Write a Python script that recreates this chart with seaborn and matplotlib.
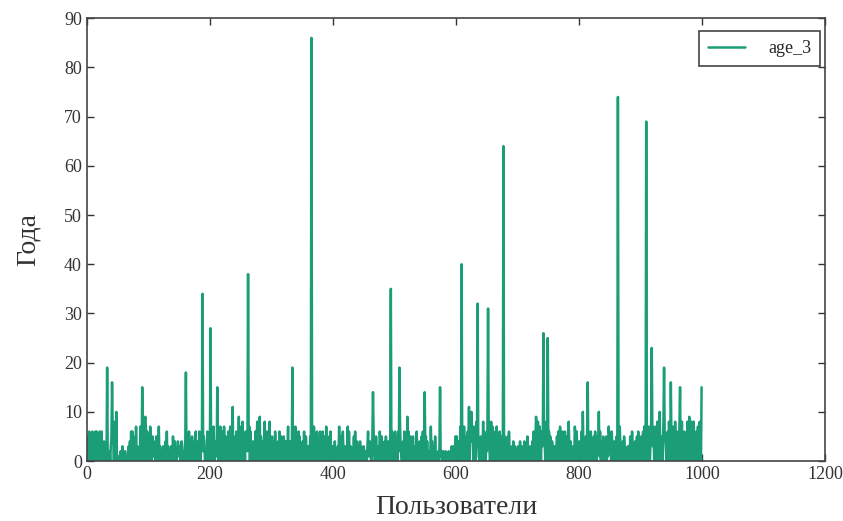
import matplotlib
matplotlib.use('Agg')
import matplotlib.pyplot as plt
import seaborn as sns
import pandas as pd

# baseline ages per user, read by eye (one digit per user, groups of 10)
base_rows = [
    "5031604206 3051606030 1602603040 1306010203 5076085030 1001020130 1020010230 4060605010 7031020710 2605807060",
    "3507203514 2015002703 0201302041 6031020301 5204100243 1300402103 4203006201 1500403604 3206005302 5401206403",
    "4501607204 3105020701 4607305042 6107304203 2506401806 3708204063 5204706102 4102605804 3605204108 2506301803",
    "3500406203 1406305102 5304102701 4200306207 0304605001 2406105200 3105006207 4200605106 2306405107 0304506003",
    "2304102031 4005106201 3100406103 2001506004 1302403100 3102003612 4100506201 5203106405 3102405102 4205306203",
    "4605306207 3102406105 2406305201 5203106203 1400506102 3504100203 2403005100 1203012002 0102001020 1003013005",
    "3504103705 4607201506 3708406507 2608305104 5302806403 2706301807 4501607304 2605302605 3102506201 2304203102",
    "1302410320 2403025102 3201406205 4608207406 3507401805 2605304201 3102506107 2506102605 1405304102 3102506203",
    "4201607204 2506102506 3102506305 4201600405 3102504105 2406302403 3506407301 2405302103 1305406202 2403506102",
    "3504607201 4607204806 3507401805 4605201806 5302608401 4607208106 3507401805 4605308106 5203608502 4607108207",
]

# the tall spikes
spike_users = [33, 41, 48, 90, 95, 161, 188, 201, 212, 237, 247, 262, 281, 334, 365,
               389, 410, 424, 465, 494, 508, 521, 549, 559, 574, 609, 621, 625, 635, 652,
               677, 730, 742, 749, 783, 793, 806, 814, 832, 848, 863, 909, 918, 931, 938,
               949, 964, 979, 983, 999]
spike_ages = [19, 16, 10, 15, 9, 18, 34, 27, 15, 11, 9, 38, 9, 19, 86,
              7, 7, 7, 14, 35, 19, 9, 14, 7, 15, 40, 11, 10, 32, 31,
              64, 9, 26, 25, 8, 7, 10, 16, 10, 7, 74, 69, 23, 10, 19,
              16, 15, 9, 8, 15]

age_3 = [int(c) for row in base_rows for c in row if c != ' ']
for u, a in zip(spike_users, spike_ages):
    age_3[u] = a
users = list(range(len(age_3)))

df = pd.DataFrame({'users': users, 'age_3': age_3})

sns.set_style('ticks')
plt.rcParams['font.family'] = ['Liberation Serif', 'DejaVu Serif']
plt.rcParams['xtick.direction'] = 'in'
plt.rcParams['ytick.direction'] = 'in'
plt.rcParams['xtick.top'] = True
plt.rcParams['ytick.right'] = True

fig = plt.figure(figsize=(8.43, 5.21), dpi=100)
ax = fig.add_axes([0.103, 0.115, 0.876, 0.85])

sns.lineplot(data=df, x='users', y='age_3', color='#1b9e77', linewidth=1.8,
             label='age_3', ax=ax)

ax.set_xlim(0, 1200)
ax.set_ylim(0, 90)
ax.set_xticks(range(0, 1201, 200))
ax.set_yticks(range(0, 91, 10))
ax.tick_params(labelsize=13, length=5, width=1, colors='#333333', labelcolor='#333333')
for s in ax.spines.values():
    s.set_color('#444444')
    s.set_linewidth(1.2)

ax.set_xlabel('Пользователи', fontsize=20, color='#333333', labelpad=9)
ax.set_ylabel('Года', fontsize=20, color='#333333', labelpad=17)

leg = ax.legend(loc='upper right', bbox_to_anchor=(0.993, 0.971), borderaxespad=0,
                fancybox=False, edgecolor='#444444', framealpha=1, fontsize=13,
                handlelength=2, handletextpad=1.3, borderpad=0.5)
leg.get_frame().set_linewidth(1.2)

fig.savefig('out.png', dpi=100)
